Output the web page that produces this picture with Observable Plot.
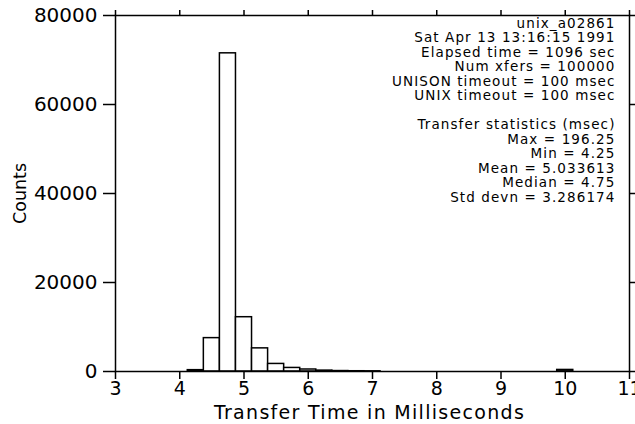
<!DOCTYPE html>
<html>
<head>
<meta charset="utf-8">
<script src="https://cdn.jsdelivr.net/npm/d3@7"></script>
<script src="https://cdn.jsdelivr.net/npm/@observablehq/plot@0.6"></script>
<style>
  html, body { margin: 0; padding: 0; background: #fff; }
  svg { font-family: "DejaVu Sans", sans-serif; }
</style>
</head>
<body>
<div id="chart"></div>
<script>
// Bin centres (ms) and counts; bin width 0.25 ms
const binCenters = [4.25, 4.5, 4.75, 5.0, 5.25, 5.5, 5.75, 6.0, 6.25, 6.5, 6.75, 7.0, 10.0];
const counts     = [300, 7500, 71500, 12200, 5200, 1700, 800, 450, 200, 100, 60, 40, 350];
const binWidth = 0.25;
const xTicks = [3, 4, 5, 6, 7, 8, 9, 10, 11];
const yTicks = [0, 20000, 40000, 60000, 80000];
const xTitle = "Transfer Time in Milliseconds";
const yTitle = "Counts";
const infoLines = [
  "unix_a02861",
  "Sat Apr 13 13:16:15 1991",
  "Elapsed time = 1096 sec",
  "Num xfers = 100000",
  "UNISON timeout = 100 msec",
  "UNIX timeout = 100 msec",
  "",
  "Transfer statistics (msec)",
  "Max = 196.25",
  "Min = 4.25",
  "Mean = 5.033613",
  "Median = 4.75",
  "Std devn = 3.286174"
];

const bins = binCenters.map((c, i) => ({x1: c - binWidth / 2, x2: c + binWidth / 2, count: counts[i]}));

const chart = Plot.plot({
  width: 635,
  height: 424,
  marginLeft: 115,
  marginRight: 6,
  marginTop: 15,
  marginBottom: 53,
  style: {fontFamily: "DejaVu Sans, sans-serif", background: "#fff", color: "#000"},
  x: {domain: [3, 11]},
  y: {domain: [0, 80000]},
  marks: [
    Plot.rectY(bins, {x1: "x1", x2: "x2", y: "count", fill: "white", stroke: "black", strokeWidth: 1.5}),
    Plot.frame({stroke: "black", strokeWidth: 1.5}),
    Plot.axisX({anchor: "bottom", ticks: xTicks, tickSize: 8, tickPadding: 2, fontSize: 19,
      label: null, strokeWidth: 1.5}),
    Plot.axisX({anchor: "top", ticks: xTicks, tickSize: 6, tickFormat: () => "", label: null, strokeWidth: 1.5}),
    Plot.axisY({anchor: "left", ticks: yTicks, tickSize: 12, tickPadding: 6, fontSize: 20,
      tickFormat: d3.format("d"), label: null, strokeWidth: 1.5}),
    Plot.axisY({anchor: "right", ticks: yTicks, tickSize: 5, tickFormat: () => "", label: null, strokeWidth: 1.5}),
    Plot.text([xTitle], {frameAnchor: "bottom", dx: -3, dy: 47, lineAnchor: "bottom", fontSize: 19, fill: "black"}),
    Plot.text([yTitle], {frameAnchor: "left", dx: -95, rotate: -90, textAnchor: "middle", fontSize: 17.5, fill: "black"}),
    Plot.text([infoLines.join("\n")], {
      frameAnchor: "top-right", dx: -14, dy: 2, lineHeight: 1.075, fontSize: 13.5,
      textAnchor: "end", lineAnchor: "top", fill: "black"
    })
  ]
});
// widen the lettering like the plotter font
chart.querySelectorAll('g[aria-label="text"] text').forEach(t => {
  const s = t.textContent;
  if (s.startsWith("unix")) t.setAttribute("letter-spacing", "1.1");
  else if (s === xTitle) t.setAttribute("letter-spacing", "1.3");
});
document.getElementById("chart").appendChild(chart);
</script>
</body>
</html>
